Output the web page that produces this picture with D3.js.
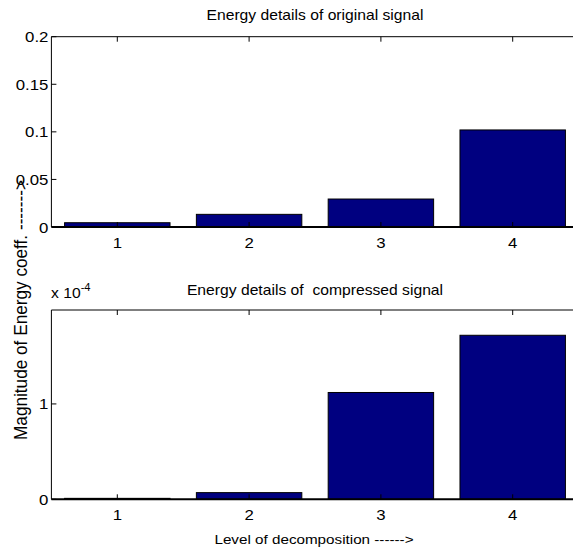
<!DOCTYPE html>
<html><head><meta charset="utf-8">
<script src="https://cdn.jsdelivr.net/npm/d3@7"></script>
<style>body{margin:0;background:#fff}text{font-family:"Liberation Sans",Arial,Helvetica,sans-serif;fill:#000;white-space:pre}</style>
</head><body>
<svg id="c" width="573" height="550"></svg>
<script>
// ---- data ----
const levels = [1, 2, 3, 4];
const originalEnergy = [0.0045, 0.0133, 0.0294, 0.102];
const compressedEnergy = [0.01, 0.07, 1.12, 1.72]; // in units of 1e-4
const topYTicks = [0, 0.05, 0.1, 0.15, 0.2];
const topYTickLabels = ["0", "0.05", "0.1", "0.15", "0.2"];
const bottomYTicks = [0, 1];
const bottomYTickLabels = ["0", "1"];
const xTickLabels = ["1", "2", "3", "4"];
const titles = ["Energy details of original signal", "Energy details of  compressed signal"];
const xLabel = "Level of decomposition ------>";
const yLabel = "Magnitude of Energy coeff. ------->";

// ---- layout ----
const svg = d3.select("#c");
const S = 1.12; // horizontal text stretch
const left = 51.4, right = 578.6;
const x = d3.scaleLinear().domain([0.5, 4.5]).range([left, right]);
const barW = 0.8;

function txt(g, str, px, py, size, anchor) {
  return g.append("text").text(str)
    .attr("transform", `translate(${px},${py}) scale(${S},1)`)
    .attr("font-size", size).attr("text-anchor", anchor || "middle");
}

function panel(values, yDomain, yTop, yBot, ticks, tickLabels, title, titleY) {
  const y = d3.scaleLinear().domain(yDomain).range([yBot, yTop]);
  const g = svg.append("g");
  // bars
  g.selectAll("rect.bar").data(levels).enter().append("rect")
    .attr("x", d => x(d - barW / 2))
    .attr("width", d => x(d + barW / 2) - x(d - barW / 2))
    .attr("y", (d, i) => y(values[i]))
    .attr("height", (d, i) => y(0) - y(values[i]))
    .attr("fill", "#000080").attr("stroke", "#000").attr("stroke-width", 1);
  // box
  g.append("line").attr("x1", left).attr("x2", 573).attr("y1", yTop).attr("y2", yTop).attr("stroke", "#000");
  g.append("line").attr("x1", left).attr("x2", left).attr("y1", yTop).attr("y2", yBot).attr("stroke", "#000");
  g.append("line").attr("x1", left).attr("x2", 573).attr("y1", y(0)).attr("y2", y(0)).attr("stroke", "#000").attr("stroke-width", 2);
  // x ticks (inward, top and bottom)
  levels.forEach((d, i) => {
    g.append("line").attr("x1", x(d)).attr("x2", x(d)).attr("y1", yTop).attr("y2", yTop + 5).attr("stroke", "#000");
    g.append("line").attr("x1", x(d)).attr("x2", x(d)).attr("y1", yBot).attr("y2", yBot - 5).attr("stroke", "#000");
    txt(g, xTickLabels[i], x(d), yBot + 21, 15);
  });
  // y ticks
  ticks.forEach((t, i) => {
    g.append("line").attr("x1", left).attr("x2", left + 5).attr("y1", y(t)).attr("y2", y(t)).attr("stroke", "#000");
    txt(g, tickLabels[i], left - 3, y(t) + 5.5, 15, "end");
  });
  txt(g, title, (left + right) / 2, titleY, 14);
  return y;
}

panel(originalEnergy, [0, 0.2], 36.7, 227, topYTicks, topYTickLabels, titles[0], 20);
panel(compressedEnergy, [0, 1.985], 310, 499.3, bottomYTicks, bottomYTickLabels, titles[1], 295);

// exponent label
const ex = svg.append("text").attr("transform", `translate(51,298) scale(${S},1)`).attr("font-size", 14);
ex.append("tspan").text("x 10");
ex.append("tspan").text("-4").attr("font-size", 10).attr("dy", -7);

// axis labels
txt(svg, xLabel, (left + right) / 2 - 1, 543.5, 13.6);
svg.append("text").text(yLabel)
  .attr("transform", "translate(26.5,440) rotate(-90) scale(1,1.05)")
  .attr("font-size", 17.2).attr("text-anchor", "start");
</script>
</body></html>
